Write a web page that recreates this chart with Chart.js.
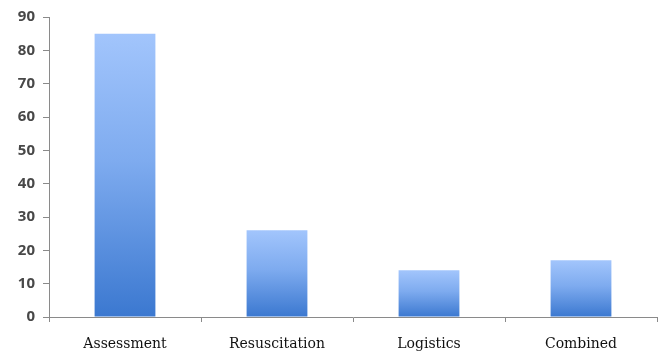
<!DOCTYPE html>
<html>
<head>
<meta charset="utf-8">
<script src="https://cdn.jsdelivr.net/npm/chart.js@4/dist/chart.umd.min.js"></script>
<style>
  html, body { margin: 0; padding: 0; background: #fff; }
  #wrap { width: 660px; height: 354px; }
</style>
</head>
<body>
<div id="wrap"><canvas id="c" width="660" height="354"></canvas></div>
<script>
const categories = ['Assessment', 'Resuscitation', 'Logistics', 'Combined'];
const values = [85, 26, 14, 17];
const yTicks = [0, 10, 20, 30, 40, 50, 60, 70, 80, 90];

// Vertical gradient per bar: light blue at the top, deeper blue at the base
function barFill(ctx) {
  const chart = ctx.chart;
  const y = chart.scales && chart.scales.y;
  if (!y || ctx.parsed === undefined || !chart.chartArea) return '#6fa0e8';
  const top = y.getPixelForValue(ctx.parsed.y);
  const base = y.getPixelForValue(0);
  const g = chart.ctx.createLinearGradient(0, top, 0, base);
  g.addColorStop(0, '#a2c5fc');
  g.addColorStop(0.45, '#7eabef');
  g.addColorStop(1, '#3b78d0');
  return g;
}

new Chart(document.getElementById('c'), {
  type: 'bar',
  data: {
    labels: categories,
    datasets: [{
      data: values,
      backgroundColor: barFill,
      borderWidth: 0,
      barPercentage: 0.8,
      categoryPercentage: 0.5
    }]
  },
  options: {
    responsive: false,
    animation: false,
    layout: { padding: { top: 15, right: 3, left: 0, bottom: 0 } },
    plugins: { legend: { display: false }, tooltip: { enabled: false } },
    scales: {
      x: {
        grid: { drawOnChartArea: false, drawTicks: true, tickLength: 5, color: '#8a8a8a' },
        border: { color: '#8a8a8a', width: 1 },
        ticks: { color: '#111', padding: 14, font: { family: 'DejaVu Serif', size: 14 } },
        afterFit: s => { s.height = 37; }
      },
      y: {
        min: 0, max: 90,
        afterBuildTicks: s => { s.ticks = yTicks.map(v => ({ value: v })); },
        grid: { drawOnChartArea: false, drawTicks: true, tickLength: 6, color: '#8a8a8a' },
        border: { color: '#8a8a8a', width: 1 },
        ticks: { color: '#484848', padding: 8, font: { family: 'Open Sans', size: 15, weight: '700' } },
        afterFit: s => { s.width = 49; }
      }
    }
  }
});
</script>
</body>
</html>
